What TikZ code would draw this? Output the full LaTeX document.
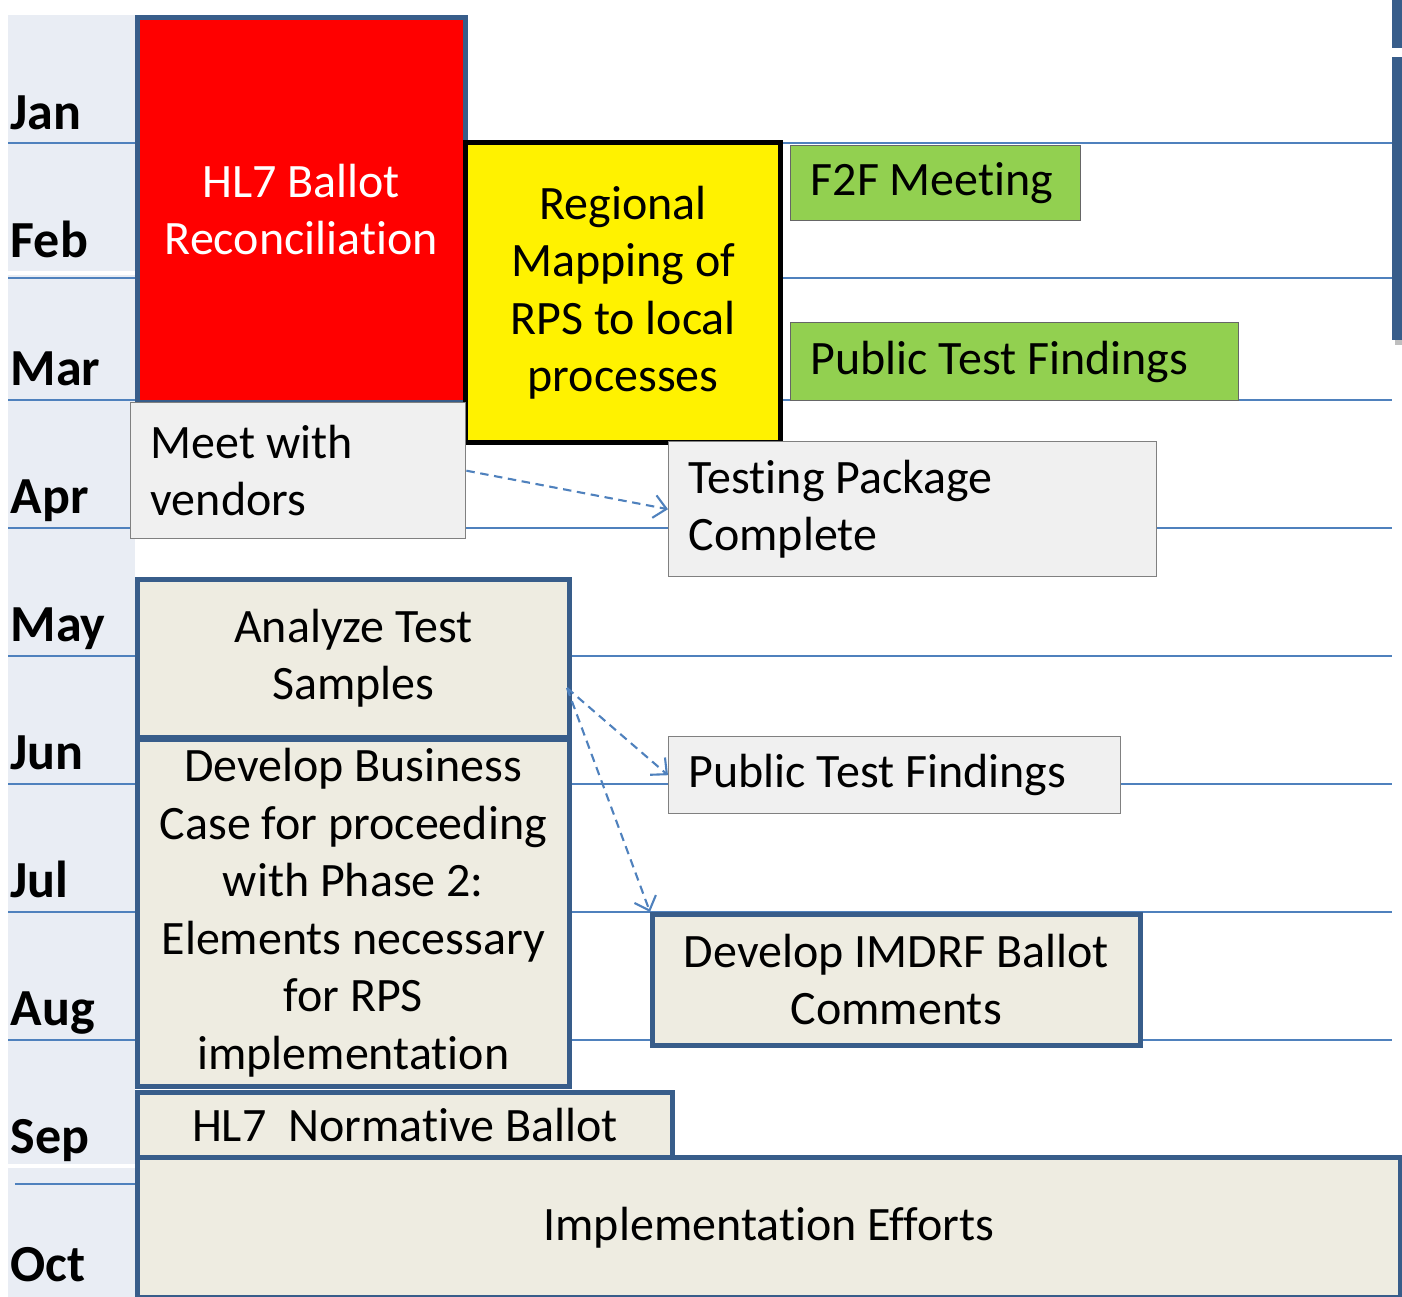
\documentclass[tikz,border=0pt]{standalone}
\usepackage{fontspec}
\setmainfont{Carlito}[Ligatures=CommonOff]
\usetikzlibrary{arrows.meta,positioning,calc}

\definecolor{linkblue}{HTML}{4F81BD}
\definecolor{frameblue}{HTML}{385D8A}
\definecolor{taskbeige}{HTML}{EEECE1}
\definecolor{notegray}{HTML}{F0F0F0}
\definecolor{leafgreen}{HTML}{92D050}
\definecolor{monthbg}{HTML}{E9EDF4}

\begin{document}
\begin{tikzpicture}[
  box/.style={anchor=north west, inner sep=0pt, align=center,
    font=\fontsize{13.65}{16.35}\selectfont},
  task/.style={box, fill=taskbeige, draw=frameblue, line width=1.3pt},
  note/.style={box, fill=notegray, draw=black!50, line width=0.4pt,
    align=flush left, inner xsep=0.2cm},
  month/.style={anchor=base west, inner sep=0pt,
    font=\fontsize{14.8}{17}\selectfont\bfseries},
  link/.style={linkblue, dashed, dash pattern=on 2.4pt off 1.6pt, line width=0.6pt,
    -{Straight Barb[length=3.5pt,width=6.5pt]}}
]
\useasboundingbox (0,0) rectangle (14.02,-12.97);

% month column
\fill[monthbg] (0.08,-0.15) rectangle (1.35,-12.97);
\draw[white, line width=1pt] (0.08,-2.73) -- (1.35,-2.73);
\draw[white, line width=1pt] (0.08,-11.66) -- (1.35,-11.66);
\foreach \m [count=\i from 0] in {Jan,Feb,Mar,Apr,May,Jun,Jul,Aug,Sep,Oct}
  \node[month] (m\i) at (0.10,{-1.30-1.28*\i}) {\m};

% month rules
\foreach \y in {1.43,2.78,4.00,5.28,6.56,7.84,9.12,10.40}
  \draw[linkblue, line width=0.7pt] (0.08,-\y) -- (13.92,-\y);
\draw[linkblue, line width=0.7pt] (0.15,-11.84) -- (1.35,-11.84);

% bar at the right edge
\fill[black!25] (13.95,-0.60) rectangle (14.02,-3.45);
\fill[frameblue] (13.92,0) rectangle (14.02,-0.48);
\fill[frameblue] (13.92,-0.57) rectangle (14.02,-3.40);

% tasks
\node[box, fill=red, draw=frameblue, line width=1.3pt, text=white,
  minimum width=3.28cm, minimum height=3.85cm] (ballot) at (1.35,-0.15)
  {HL7 Ballot\\Reconciliation};
\node[box, fill=yellow, draw=black, line width=1.5pt,
  minimum width=3.15cm, minimum height=3.00cm] (mapping) at (4.63,-1.40)
  {Regional\\Mapping of\\RPS to local\\processes};
\node[box, fill=leafgreen, draw=black!60, line width=0.4pt, align=flush left, inner xsep=0.2cm,
  text width=2.50cm, minimum height=0.75cm] (f2f) at (7.90,-1.45) {F2F Meeting};
\node[box, fill=leafgreen, draw=black!60, line width=0.4pt, align=flush left, inner xsep=0.2cm,
  text width=4.08cm, minimum height=0.78cm] (findA) at (7.90,-3.22) {Public Test Findings};
\node[note, text width=2.95cm, minimum height=1.36cm] (vendors) at (1.30,-4.02)
  {Meet with\\vendors};
\node[note, text width=4.48cm, minimum height=1.35cm] (package) at (6.68,-4.41)
  {Testing Package\\Complete};
\node[task, minimum width=4.32cm, minimum height=1.58cm] (analyze) at (1.35,-5.77)
  {Analyze Test\\Samples};
\node[task, minimum width=4.32cm, minimum height=3.47cm] (business) at (1.35,-7.37)
  {Develop Business\\Case for proceeding\\with Phase 2:\\Elements necessary\\for RPS\\implementation};
\node[note, text width=4.12cm, minimum height=0.77cm] (findB) at (6.68,-7.36)
  {Public Test Findings};
\node[task, minimum width=4.88cm, minimum height=1.31cm] (imdrf) at (6.50,-9.12)
  {Develop IMDRF Ballot\\Comments};
\node[task, minimum width=5.35cm, minimum height=0.65cm] (normative) at (1.35,-10.90)
  {HL7\ \ Normative Ballot};
\node[task, minimum width=12.63cm, minimum height=1.40cm] (impl) at (1.35,-11.55)
  {Implementation Efforts};

% dependencies
\coordinate (fork) at (5.67,-6.88);
\draw[link] (vendors.east) -- (package.west);
\draw[link] (fork) -- (findB.west);
\draw[link] (fork) -- (imdrf.north west);
\end{tikzpicture}
\end{document}
